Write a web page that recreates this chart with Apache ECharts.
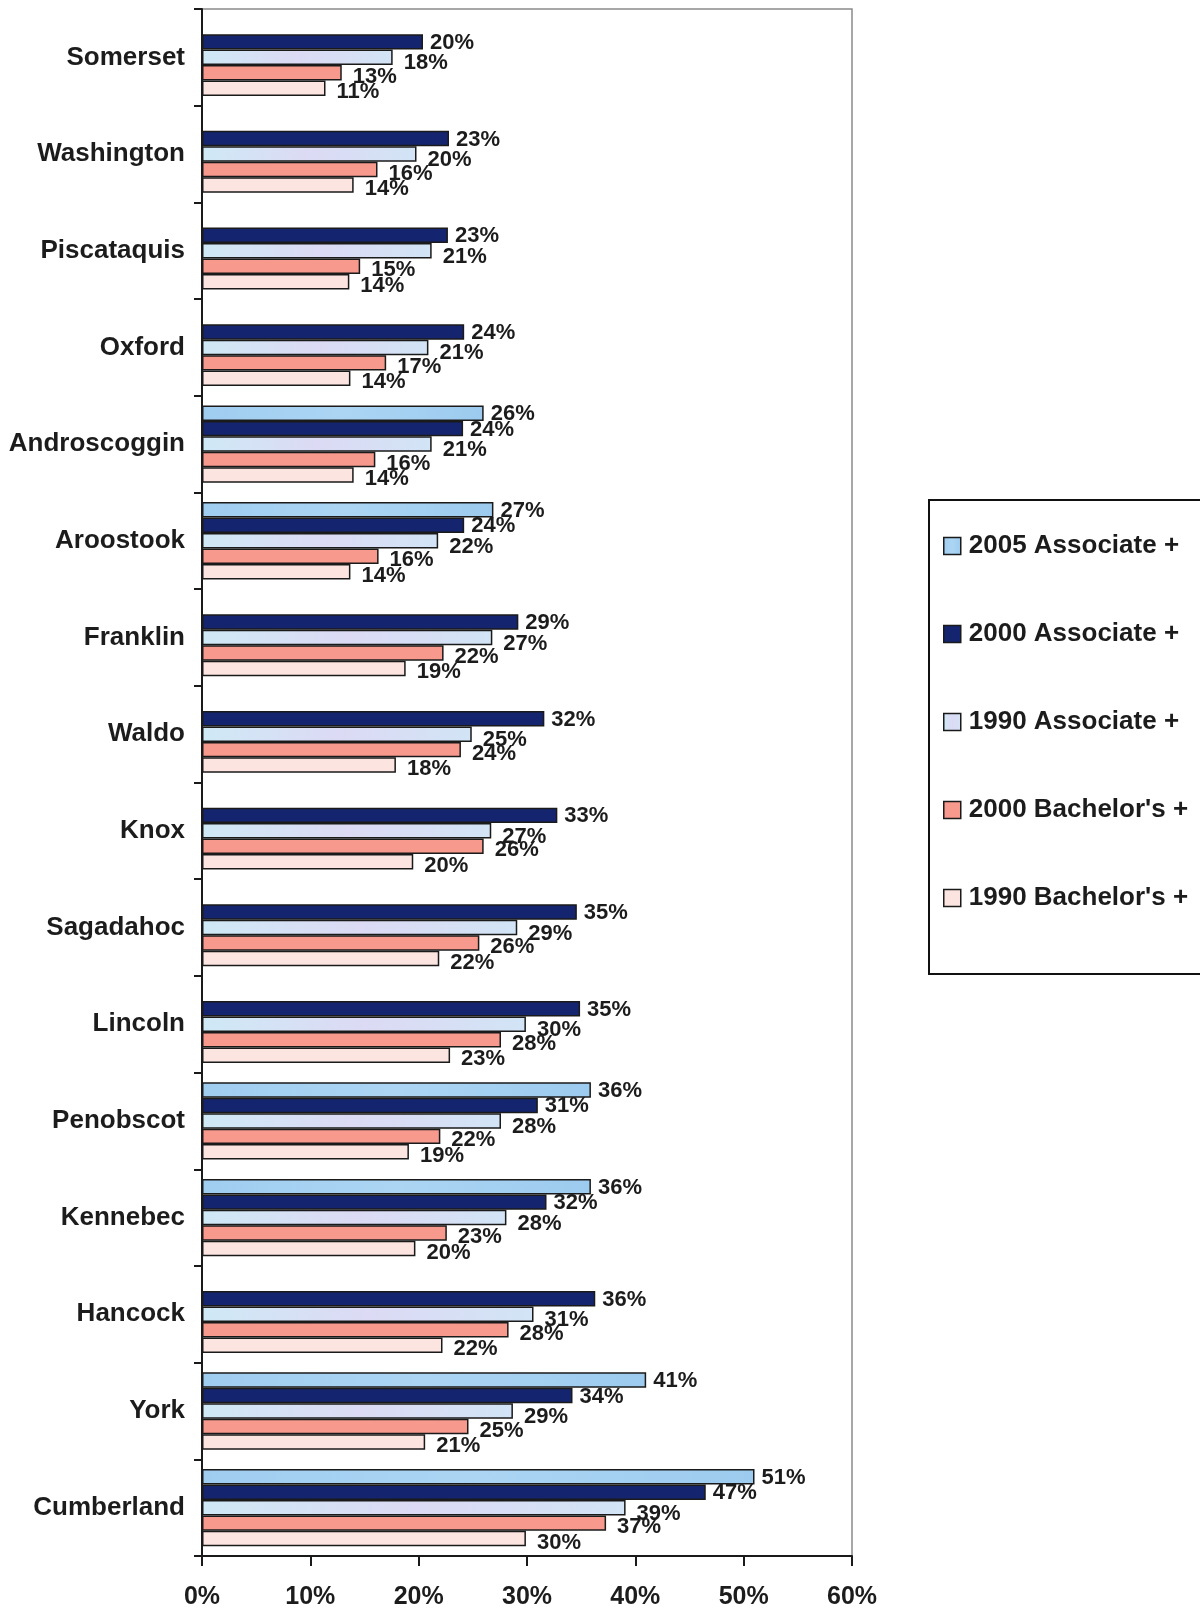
<!DOCTYPE html>
<html>
<head>
<meta charset="utf-8">
<script src="https://cdn.jsdelivr.net/npm/echarts@6/dist/echarts.min.js"></script>
<style>
  html, body { margin: 0; padding: 0; background: #ffffff; }
  #chart { width: 1200px; height: 1610px; }
</style>
</head>
<body>
<div id="chart"></div>
<script>
// Counties, top to bottom
const counties = ["Somerset", "Washington", "Piscataquis", "Oxford", "Androscoggin", "Aroostook",
  "Franklin", "Waldo", "Knox", "Sagadahoc", "Lincoln", "Penobscot", "Kennebec", "Hancock", "York", "Cumberland"];

// Values (%) in the same order as counties
const assoc2005 = [null, null, null, null, 26.0, 26.9, null, null, null, null, null, 35.9, 35.9, null, 41.0, 51.0];
const assoc2000 = [20.4, 22.8, 22.7, 24.2, 24.1, 24.2, 29.2, 31.6, 32.8, 34.6, 34.9, 31.0, 31.8, 36.3, 34.2, 46.5];
const assoc1990 = [17.6, 19.8, 21.2, 20.9, 21.2, 21.8, 26.8, 24.9, 26.7, 29.1, 29.9, 27.6, 28.1, 30.6, 28.7, 39.1];
const bach2000  = [12.9, 16.2, 14.6, 17.0, 16.0, 16.3, 22.3, 23.9, 26.0, 25.6, 27.6, 22.0, 22.6, 28.3, 24.6, 37.3];
const bach1990  = [11.4, 14.0, 13.6, 13.7, 14.0, 13.7, 18.8, 17.9, 19.5, 21.9, 22.9, 19.1, 19.7, 22.2, 20.6, 29.9];

const seriesNames = ["2005 Associate +", "2000 Associate +", "1990 Associate +", "2000 Bachelor's +", "1990 Bachelor's +"];
const xTicks = [0, 10, 20, 30, 40, 50, 60];

const FONT = "'Liberation Sans', Arial, sans-serif";

const fills = [
  { type: 'linear', x: 0, y: 0, x2: 1, y2: 0, colorStops: [{ offset: 0, color: '#9fcdf0' }, { offset: 0.5, color: '#acd5f3' }, { offset: 1, color: '#9ccbef' }] },
  '#15246f',
  { type: 'linear', x: 0, y: 0, x2: 1, y2: 0, colorStops: [{ offset: 0, color: '#cfe9f6' }, { offset: 0.5, color: '#dcdaf4' }, { offset: 1, color: '#d2e4f6' }] },
  '#f7998c',
  '#fce4e1'
];
const labelOffsets = [[2, 1], [2, 1], [6, 6], [6, 4], [6, 4]];
const dataSets = [assoc2005, assoc2000, assoc1990, bach2000, bach1990];

const series = dataSets.map((d, i) => ({
  name: seriesNames[i],
  type: 'bar',
  data: d,
  barGap: '0%',
  barCategoryGap: '20%',
  itemStyle: { color: fills[i], borderColor: '#1a1a1a', borderWidth: 1.5 },
  label: {
    show: true,
    position: 'right',
    distance: 5,
    offset: labelOffsets[i],
    formatter: p => (p.value == null ? '' : Math.round(p.value) + '%'),
    fontFamily: FONT,
    fontWeight: 'bold',
    fontSize: 22,
    color: '#1c1c1c'
  },
  emphasis: { disabled: true }
}));

const chart = echarts.init(document.getElementById('chart'), null, { renderer: 'canvas' });
chart.setOption({
  animation: false,
  backgroundColor: '#ffffff',
  grid: {
    left: 202, right: 348, top: 9, bottom: 47,
    show: true, borderColor: '#8a8a8a', borderWidth: 1.5, backgroundColor: 'transparent'
  },
  legend: {
    orient: 'vertical',
    left: 929,
    top: 500,
    data: seriesNames,
    itemWidth: 17,
    itemHeight: 17,
    itemGap: 62,
    icon: 'rect',
    itemStyle: { borderColor: '#1a1a1a', borderWidth: 1.5 },
    borderColor: '#111',
    borderWidth: 2,
    padding: [33, 40, 63, 14],
    textStyle: { fontFamily: FONT, fontWeight: 'bold', fontSize: 26, color: '#1c1c1c', padding: [0, 0, 0, 3] }
  },
  xAxis: {
    type: 'value',
    min: xTicks[0],
    max: xTicks[xTicks.length - 1],
    interval: 10,
    splitLine: { show: false },
    axisLine: { show: true, lineStyle: { color: '#1a1a1a', width: 2 } },
    axisTick: { show: true, length: 10, lineStyle: { color: '#1a1a1a', width: 2 } },
    axisLabel: { formatter: '{value}%', margin: 29, fontFamily: FONT, fontWeight: 'bold', fontSize: 25, color: '#1c1c1c' }
  },
  yAxis: {
    type: 'category',
    data: counties,
    inverse: true,
    axisLine: { show: true, lineStyle: { color: '#1a1a1a', width: 2 } },
    axisTick: { show: true, length: 8, lineStyle: { color: '#1a1a1a', width: 2 } },
    axisLabel: { margin: 17, fontFamily: FONT, fontWeight: 'bold', fontSize: 26, color: '#1c1c1c' }
  },
  series: series
});
</script>
</body>
</html>
